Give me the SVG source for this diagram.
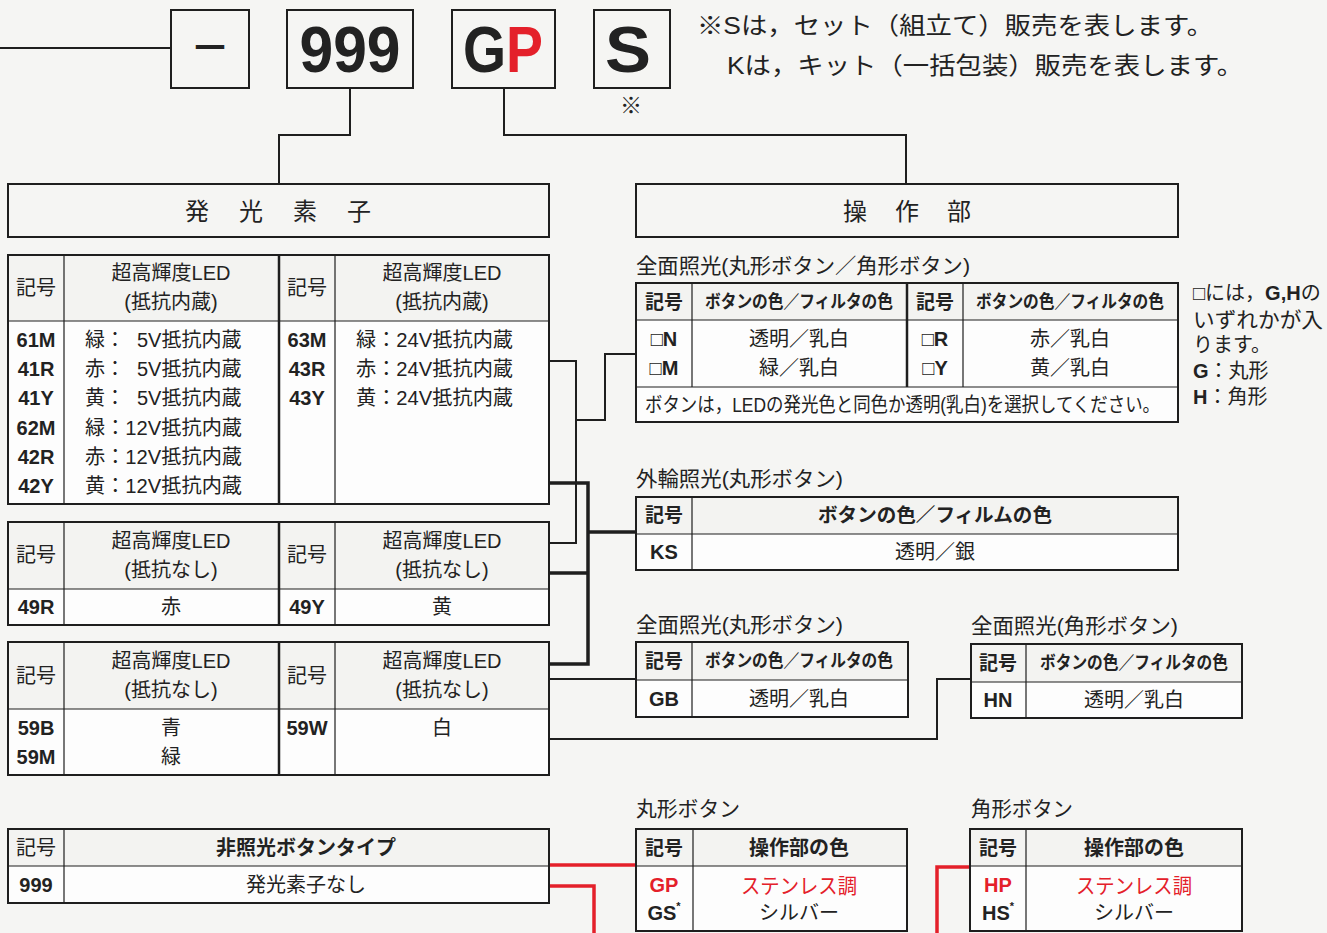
<svg xmlns="http://www.w3.org/2000/svg" width="1327" height="933" viewBox="0 0 1327 933">
<style>
.bg{fill:#f5f5f3}
.fr{fill:#fdfdfd;stroke:#1e1e1e;stroke-width:2}
.hd{fill:#f3f3f1}
.ln{stroke:#1e1e1e;stroke-width:1.2;fill:none}
.lnt{stroke:#1e1e1e;stroke-width:2.5;fill:none}
.bx{fill:#f5f5f3;stroke:#1e1e1e;stroke-width:2}
.cn{stroke:#1e1e1e;stroke-width:2;fill:none}
.cnk{stroke:#1e1e1e;stroke-width:3.5;fill:none}
.cnr{stroke:#e4202a;stroke-width:3.5;fill:none}
text{font-family:"Liberation Sans","Noto Sans CJK JP",sans-serif;fill:#222;dominant-baseline:central}
.s20{font-size:20px}
.s19{font-size:19px}
.s18{font-size:18px}
.s21{font-size:21px}
.m{text-anchor:middle}
.b{font-weight:bold}
.big{font-size:64px;font-weight:bold;text-anchor:middle}
.red{fill:#e4202a}
</style>
<rect class="bg" x="0" y="0" width="1327" height="933"/>

<g id="connectors">
<polyline class="cn" points="0,48 171,48"/>
<polyline class="cn" points="350,88 350,135 279,135 279,184"/>
<polyline class="cn" points="504,88 504,135 906,135 906,184"/>
<polyline class="cn" points="549,361 576,361 576,543 549,543"/>
<polyline class="cn" points="576,420 605,420 605,354 636,354"/>
<polyline class="cn" points="549,679 636,679"/>
<polyline class="cn" points="549,739 937,739 937,679 971,679"/>
<polyline class="cnk" points="549,483 588,483 588,664 549,664"/>
<polyline class="cnk" points="549,573 588,573"/>
<polyline class="cnk" points="588,532 636,532"/>
<polyline class="cnr" points="549,865 636,865"/>
<polyline class="cnr" points="549,886 594,886 594,933"/>
<polyline class="cnr" points="970,867 937,867 937,933"/>
</g>

<g id="box-dash">
<rect class="bx" x="171" y="10" width="78" height="78"/>
<text x="210" y="48" class="m b" font-size="40">－</text>
</g>
<g id="box-999">
<rect class="bx" x="287" y="10" width="126" height="78"/>
<text x="350" y="50" class="big" textLength="101" lengthAdjust="spacingAndGlyphs">999</text>
</g>
<g id="box-GP">
<rect class="bx" x="452" y="10" width="103" height="78"/>
<text x="503" y="50" class="big" textLength="80" lengthAdjust="spacingAndGlyphs">G<tspan class="red">P</tspan></text>
</g>
<g id="box-S">
<rect class="bx" x="594" y="10" width="76" height="78"/>
<text x="628" y="50" class="big" textLength="46" lengthAdjust="spacingAndGlyphs">S</text>
<text x="631" y="105" class="m" font-size="22">※</text>
</g>
<g id="note-top">
<text x="697" y="25" font-size="24" textLength="516" lengthAdjust="spacingAndGlyphs">※Sは，セット（組立て）販売を表します。</text>
<text x="727" y="65" font-size="24" textLength="516" lengthAdjust="spacingAndGlyphs">Kは，キット（一括包装）販売を表します。</text>
</g>

<g id="hakkou-soshi">
<rect class="bx" x="8" y="184" width="541" height="53"/>
<text x="293" y="211" class="m" font-size="24" letter-spacing="30">発光素子</text>
</g>
<g id="sousabu">
<rect class="bx" x="636" y="184" width="542" height="53"/>
<text x="921" y="211" class="m" font-size="24" letter-spacing="28">操作部</text>
</g>

<g id="table-led-naizo">
<rect class="fr" x="8" y="255" width="541" height="249"/>
<rect class="hd" x="9" y="256" width="539" height="65"/>
<line class="ln" x1="8" y1="321" x2="549" y2="321"/>
<line class="ln" x1="64" y1="255" x2="64" y2="504"/>
<line class="lnt" x1="279" y1="255" x2="279" y2="504"/>
<line class="ln" x1="335" y1="255" x2="335" y2="504"/>
<rect x="8" y="255" width="541" height="249" fill="none" stroke="#1e1e1e" stroke-width="2"/>
<text x="36" y="288" class="s20 m">記号</text>
<text x="171" y="273" class="s20 m">超高輝度LED</text>
<text x="171" y="302" class="s20 m">(抵抗内蔵)</text>
<text x="307" y="288" class="s20 m">記号</text>
<text x="442" y="273" class="s20 m">超高輝度LED</text>
<text x="442" y="302" class="s20 m">(抵抗内蔵)</text>
<text x="36" y="340" class="s20 m b">61M</text>
<text x="36" y="369" class="s20 m b">41R</text>
<text x="36" y="398" class="s20 m b">41Y</text>
<text x="36" y="428" class="s20 m b">62M</text>
<text x="36" y="457" class="s20 m b">42R</text>
<text x="36" y="486" class="s20 m b">42Y</text>
<text x="85" y="340" class="s20">緑：<tspan x="137">5V抵抗内蔵</tspan></text>
<text x="85" y="369" class="s20">赤：<tspan x="137">5V抵抗内蔵</tspan></text>
<text x="85" y="398" class="s20">黄：<tspan x="137">5V抵抗内蔵</tspan></text>
<text x="85" y="428" class="s20" textLength="157" lengthAdjust="spacingAndGlyphs">緑：12V抵抗内蔵</text>
<text x="85" y="457" class="s20" textLength="157" lengthAdjust="spacingAndGlyphs">赤：12V抵抗内蔵</text>
<text x="85" y="486" class="s20" textLength="157" lengthAdjust="spacingAndGlyphs">黄：12V抵抗内蔵</text>
<text x="307" y="340" class="s20 m b">63M</text>
<text x="307" y="369" class="s20 m b">43R</text>
<text x="307" y="398" class="s20 m b">43Y</text>
<text x="356" y="340" class="s20" textLength="157" lengthAdjust="spacingAndGlyphs">緑：24V抵抗内蔵</text>
<text x="356" y="369" class="s20" textLength="157" lengthAdjust="spacingAndGlyphs">赤：24V抵抗内蔵</text>
<text x="356" y="398" class="s20" textLength="157" lengthAdjust="spacingAndGlyphs">黄：24V抵抗内蔵</text>
</g>

<g id="table-led-nashi-1">
<rect class="fr" x="8" y="522" width="541" height="103"/>
<rect class="hd" x="9" y="523" width="539" height="66"/>
<line class="ln" x1="8" y1="589" x2="549" y2="589"/>
<line class="ln" x1="64" y1="522" x2="64" y2="625"/>
<line class="lnt" x1="279" y1="522" x2="279" y2="625"/>
<line class="ln" x1="335" y1="522" x2="335" y2="625"/>
<rect x="8" y="522" width="541" height="103" fill="none" stroke="#1e1e1e" stroke-width="2"/>
<text x="36" y="555" class="s20 m">記号</text>
<text x="171" y="541" class="s20 m">超高輝度LED</text>
<text x="171" y="570" class="s20 m">(抵抗なし)</text>
<text x="307" y="555" class="s20 m">記号</text>
<text x="442" y="541" class="s20 m">超高輝度LED</text>
<text x="442" y="570" class="s20 m">(抵抗なし)</text>
<text x="36" y="607" class="s20 m b">49R</text>
<text x="171" y="607" class="s20 m">赤</text>
<text x="307" y="607" class="s20 m b">49Y</text>
<text x="442" y="607" class="s20 m">黄</text>
</g>

<g id="table-led-nashi-2">
<rect class="fr" x="8" y="642" width="541" height="133"/>
<rect class="hd" x="9" y="643" width="539" height="66"/>
<line class="ln" x1="8" y1="709" x2="549" y2="709"/>
<line class="ln" x1="64" y1="642" x2="64" y2="775"/>
<line class="lnt" x1="279" y1="642" x2="279" y2="775"/>
<line class="ln" x1="335" y1="642" x2="335" y2="775"/>
<rect x="8" y="642" width="541" height="133" fill="none" stroke="#1e1e1e" stroke-width="2"/>
<text x="36" y="676" class="s20 m">記号</text>
<text x="171" y="661" class="s20 m">超高輝度LED</text>
<text x="171" y="690" class="s20 m">(抵抗なし)</text>
<text x="307" y="676" class="s20 m">記号</text>
<text x="442" y="661" class="s20 m">超高輝度LED</text>
<text x="442" y="690" class="s20 m">(抵抗なし)</text>
<text x="36" y="728" class="s20 m b">59B</text>
<text x="36" y="757" class="s20 m b">59M</text>
<text x="171" y="728" class="s20 m">青</text>
<text x="171" y="757" class="s20 m">緑</text>
<text x="307" y="728" class="s20 m b">59W</text>
<text x="442" y="728" class="s20 m">白</text>
</g>

<g id="table-999">
<rect class="fr" x="8" y="829" width="541" height="74"/>
<rect class="hd" x="9" y="830" width="539" height="36"/>
<line class="ln" x1="8" y1="866" x2="549" y2="866"/>
<line class="ln" x1="64" y1="829" x2="64" y2="903"/>
<rect x="8" y="829" width="541" height="74" fill="none" stroke="#1e1e1e" stroke-width="2"/>
<text x="36" y="848" class="s20 m">記号</text>
<text x="306" y="848" class="s20 m b">非照光ボタンタイプ</text>
<text x="36" y="885" class="s20 m b">999</text>
<text x="306" y="885" class="s20 m">発光素子なし</text>
</g>

<g id="table-zenmen-both">
<text x="636" y="265" class="s21" textLength="334" lengthAdjust="spacingAndGlyphs">全面照光(丸形ボタン／角形ボタン)</text>
<rect class="fr" x="636" y="283" width="542" height="139"/>
<rect class="hd" x="637" y="284" width="540" height="36"/>
<line class="ln" x1="636" y1="320" x2="1178" y2="320"/>
<line class="ln" x1="636" y1="387" x2="1178" y2="387"/>
<line class="ln" x1="692" y1="283" x2="692" y2="387"/>
<line class="lnt" x1="907" y1="283" x2="907" y2="387"/>
<line class="ln" x1="963" y1="283" x2="963" y2="387"/>
<rect x="636" y="283" width="542" height="139" fill="none" stroke="#1e1e1e" stroke-width="2"/>
<text x="664" y="302" class="s19 m b">記号</text>
<text x="799" y="302" class="s18 m b" textLength="188" lengthAdjust="spacingAndGlyphs">ボタンの色／フィルタの色</text>
<text x="935" y="302" class="s19 m b">記号</text>
<text x="1070" y="302" class="s18 m b" textLength="188" lengthAdjust="spacingAndGlyphs">ボタンの色／フィルタの色</text>
<text x="664" y="339" class="s20 m">□<tspan class="b">N</tspan></text>
<text x="664" y="368" class="s20 m">□<tspan class="b">M</tspan></text>
<text x="935" y="339" class="s20 m">□<tspan class="b">R</tspan></text>
<text x="935" y="368" class="s20 m">□<tspan class="b">Y</tspan></text>
<text x="799" y="339" class="s20 m">透明／乳白</text>
<text x="799" y="368" class="s20 m">緑／乳白</text>
<text x="1070" y="339" class="s20 m">赤／乳白</text>
<text x="1070" y="368" class="s20 m">黄／乳白</text>
<text x="645" y="405" class="s20" textLength="515" lengthAdjust="spacingAndGlyphs">ボタンは，LEDの発光色と同色か透明(乳白)を選択してください。</text>
</g>

<g id="note-side">
<text x="1193" y="293" class="s20">□には，<tspan class="b">G,H</tspan>の</text>
<text x="1193" y="319" class="s21" textLength="130" lengthAdjust="spacingAndGlyphs">いずれかが入</text>
<text x="1193" y="345" class="s20">ります。</text>
<text x="1193" y="371" class="s20"><tspan class="b">G</tspan>：丸形</text>
<text x="1193" y="397" class="s20"><tspan class="b">H</tspan>：角形</text>
</g>

<g id="table-gairin">
<text x="636" y="478" class="s21" textLength="207" lengthAdjust="spacingAndGlyphs">外輪照光(丸形ボタン)</text>
<rect class="fr" x="636" y="497" width="542" height="73"/>
<rect class="hd" x="637" y="498" width="540" height="36"/>
<line class="ln" x1="636" y1="534" x2="1178" y2="534"/>
<line class="ln" x1="692" y1="497" x2="692" y2="570"/>
<rect x="636" y="497" width="542" height="73" fill="none" stroke="#1e1e1e" stroke-width="2"/>
<text x="664" y="515" class="s19 m b">記号</text>
<text x="935" y="515" class="s19 m b" textLength="234" lengthAdjust="spacingAndGlyphs">ボタンの色／フィルムの色</text>
<text x="664" y="552" class="s20 m b">KS</text>
<text x="935" y="552" class="s20 m">透明／銀</text>
</g>

<g id="table-zenmen-maru">
<text x="636" y="624" class="s21" textLength="207" lengthAdjust="spacingAndGlyphs">全面照光(丸形ボタン)</text>
<rect class="fr" x="636" y="642" width="272" height="75"/>
<rect class="hd" x="637" y="643" width="270" height="37"/>
<line class="ln" x1="636" y1="680" x2="908" y2="680"/>
<line class="ln" x1="692" y1="642" x2="692" y2="717"/>
<rect x="636" y="642" width="272" height="75" fill="none" stroke="#1e1e1e" stroke-width="2"/>
<text x="664" y="661" class="s19 m b">記号</text>
<text x="799" y="661" class="s18 m b" textLength="188" lengthAdjust="spacingAndGlyphs">ボタンの色／フィルタの色</text>
<text x="664" y="699" class="s20 m b">GB</text>
<text x="799" y="699" class="s20 m">透明／乳白</text>
</g>

<g id="table-zenmen-kaku">
<text x="971" y="625" class="s21" textLength="207" lengthAdjust="spacingAndGlyphs">全面照光(角形ボタン)</text>
<rect class="fr" x="971" y="644" width="271" height="74"/>
<rect class="hd" x="972" y="645" width="269" height="37"/>
<line class="ln" x1="971" y1="682" x2="1242" y2="682"/>
<line class="ln" x1="1026" y1="644" x2="1026" y2="718"/>
<rect x="971" y="644" width="271" height="74" fill="none" stroke="#1e1e1e" stroke-width="2"/>
<text x="998" y="663" class="s19 m b">記号</text>
<text x="1134" y="663" class="s18 m b" textLength="188" lengthAdjust="spacingAndGlyphs">ボタンの色／フィルタの色</text>
<text x="998" y="700" class="s20 m b">HN</text>
<text x="1134" y="700" class="s20 m">透明／乳白</text>
</g>

<g id="table-maru-button">
<text x="636" y="808" class="s21" textLength="104" lengthAdjust="spacingAndGlyphs">丸形ボタン</text>
<rect class="fr" x="636" y="829" width="271" height="102"/>
<rect class="hd" x="637" y="830" width="269" height="36"/>
<line class="ln" x1="636" y1="866" x2="907" y2="866"/>
<line class="ln" x1="693" y1="829" x2="693" y2="931"/>
<rect x="636" y="829" width="271" height="102" fill="none" stroke="#1e1e1e" stroke-width="2"/>
<text x="664" y="848" class="s19 m b">記号</text>
<text x="799" y="848" class="s20 m b">操作部の色</text>
<text x="664" y="885" class="s20 m b red">GP</text>
<text x="799" y="885" class="s21 m red" textLength="116" lengthAdjust="spacingAndGlyphs">ステンレス調</text>
<text x="664" y="913" class="s20 m b">GS<tspan font-size="11" dy="-7">*</tspan></text>
<text x="799" y="913" class="s20 m">シルバー</text>
</g>

<g id="table-kaku-button">
<text x="971" y="808" class="s21" textLength="102" lengthAdjust="spacingAndGlyphs">角形ボタン</text>
<rect class="fr" x="970" y="829" width="272" height="102"/>
<rect class="hd" x="971" y="830" width="270" height="36"/>
<line class="ln" x1="970" y1="866" x2="1242" y2="866"/>
<line class="ln" x1="1026" y1="829" x2="1026" y2="931"/>
<rect x="970" y="829" width="272" height="102" fill="none" stroke="#1e1e1e" stroke-width="2"/>
<text x="998" y="848" class="s19 m b">記号</text>
<text x="1134" y="848" class="s20 m b">操作部の色</text>
<text x="998" y="885" class="s20 m b red">HP</text>
<text x="1134" y="885" class="s21 m red" textLength="116" lengthAdjust="spacingAndGlyphs">ステンレス調</text>
<text x="998" y="913" class="s20 m b">HS<tspan font-size="11" dy="-7">*</tspan></text>
<text x="1134" y="913" class="s20 m">シルバー</text>
</g>
</svg>
